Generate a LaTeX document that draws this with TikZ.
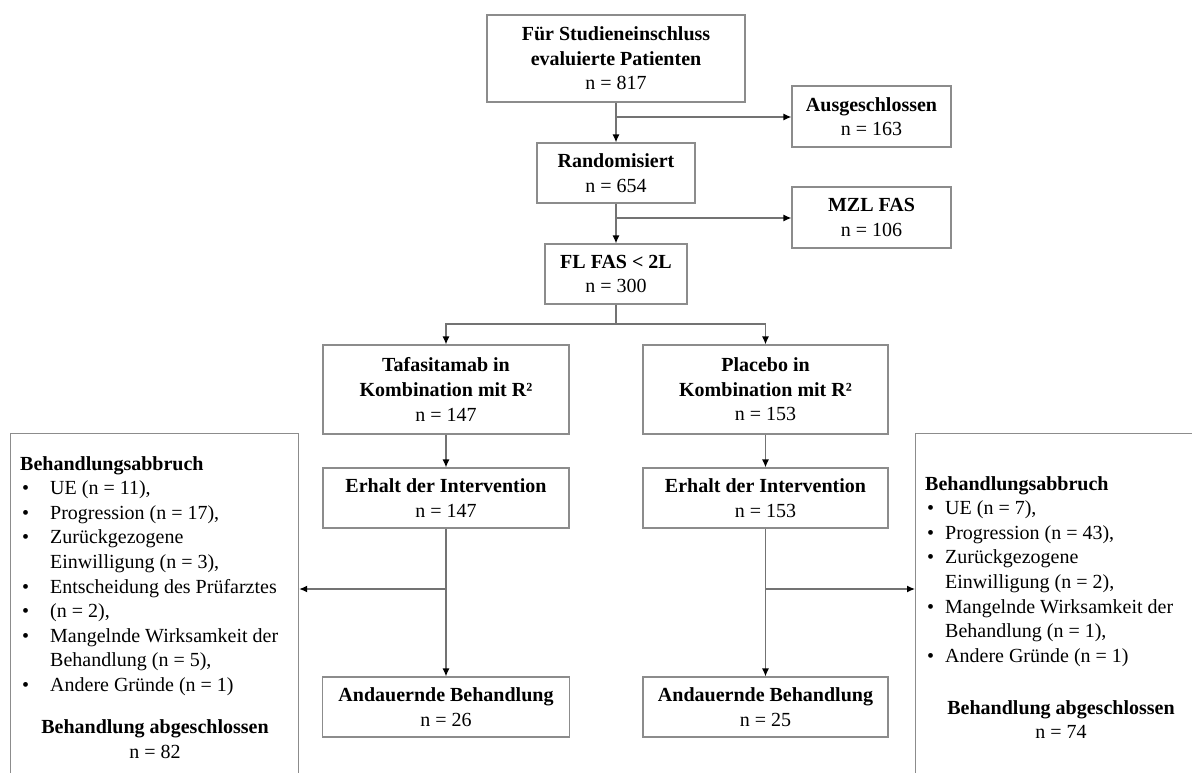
\documentclass[tikz,border=0pt]{standalone}
\usepackage{fontspec}
\setmainfont{Liberation Serif}
\usetikzlibrary{arrows.meta}
\newcommand\lbul[1]{\makebox[30pt][l]{\hspace*{2pt}•}#1}
\newcommand\lcont[1]{\hspace*{30pt}#1}
\newcommand\rbul[1]{\makebox[20pt][l]{\hspace*{2pt}•}#1}
\newcommand\rcont[1]{\hspace*{20pt}#1}
\begin{document}
\begin{tikzpicture}[x=1pt,y=-1pt,
  every node/.style={font=\fontsize{20}{24.6}\selectfont, inner sep=0pt},
  box/.style={draw=black!45, line width=1.2pt, align=center, fill=white},
  side/.style={draw=black!45, line width=1.2pt, anchor=north west},
  link/.style={draw=black!55, line width=1.3pt},
  arr/.style={link, -{Latex[length=8pt,width=7pt,color=black]}}]
\useasboundingbox (0,0) rectangle (1192,772);
\fill[white] (0,0) rectangle (1192,772);
\clip (0,0) rectangle (1192,772);

% main boxes
\node[box, minimum width=258, minimum height=87] (top) at (616,58.5)
  {\textbf{Für Studieneinschluss}\\\textbf{evaluierte Patienten}\\n = 817};
\node[box, minimum width=159, minimum height=61] (aus) at (871.5,116.5)
  {\textbf{Ausgeschlossen}\\n = 163};
\node[box, minimum width=158, minimum height=60] (rand) at (616,173)
  {\textbf{Randomisiert}\\n = 654};
\node[box, minimum width=159, minimum height=61] (mzl) at (871.5,217.5)
  {\textbf{MZL FAS}\\n = 106};
\node[box, minimum width=142, minimum height=60] (fl) at (616,274)
  {\textbf{FL FAS < 2L}\\n = 300};
\node[box, minimum width=246, minimum height=89] (tafa) at (446,389.5)
  {\textbf{Tafasitamab in}\\\textbf{Kombination mit R²}\\n = 147};
\node[box, minimum width=245, minimum height=89] (plac) at (765.5,389.5)
  {\textbf{Placebo in}\\\textbf{Kombination mit R²}\\n = 153};
\node[box, minimum width=246, minimum height=60] (erhL) at (446,498)
  {\textbf{Erhalt der Intervention}\\n = 147};
\node[box, minimum width=245, minimum height=60] (erhR) at (765.5,498)
  {\textbf{Erhalt der Intervention}\\n = 153};
\node[box, minimum width=247, minimum height=60] (andL) at (446,707)
  {\textbf{Andauernde Behandlung}\\n = 26};
\node[box, minimum width=245, minimum height=60] (andR) at (765.5,707)
  {\textbf{Andauernde Behandlung}\\n = 25};

% side boxes
\node[side, minimum width=288, minimum height=400] (lbox) at (10,433) {};
\node[side, minimum width=292, minimum height=400] (rbox) at (915,433) {};

\node[anchor=north west, align=left] (ltext) at (20,456)
  {\textbf{Behandlungsabbruch}\\
   \lbul{UE (n = 11),}\\
   \lbul{Progression (n = 17),}\\
   \lbul{Zurückgezogene}\\
   \lcont{Einwilligung (n = 3),}\\
   \lbul{Entscheidung des Prüfarztes}\\
   \lbul{(n = 2),}\\
   \lbul{Mangelnde Wirksamkeit der}\\
   \lcont{Behandlung (n = 5),}\\
   \lbul{Andere Gründe (n = 1)}};
\node[align=center] (lfoot) at (155,739)
  {\textbf{Behandlung abgeschlossen}\\n = 82};

\node[anchor=north west, align=left] (rtext) at (925,476)
  {\textbf{Behandlungsabbruch}\\
   \rbul{UE (n = 7),}\\
   \rbul{Progression (n = 43),}\\
   \rbul{Zurückgezogene}\\
   \rcont{Einwilligung (n = 2),}\\
   \rbul{Mangelnde Wirksamkeit der}\\
   \rcont{Behandlung (n = 1),}\\
   \rbul{Andere Gründe (n = 1)}};
\node[align=center] (rfoot) at (1061,719.5)
  {\textbf{Behandlung abgeschlossen}\\n = 74};

% connectors
\coordinate (b1) at (616,117);
\coordinate (b2) at (616,218);
\coordinate (split) at (616,324);
\coordinate (jL) at (446,589);
\coordinate (jR) at (765.5,589);

\draw[arr] (top.south) -- (rand.north);
\draw[arr] (b1) -- (b1 -| aus.west);
\draw[arr] (rand.south) -- (fl.north);
\draw[arr] (b2) -- (b2 -| mzl.west);
\draw[link] (fl.south) -- (split);
\draw[arr] (split) -| (tafa.north);
\draw[arr] (split) -| (plac.north);
\draw[arr] (tafa.south) -- (erhL.north);
\draw[arr] (plac.south) -- (erhR.north);
\draw[arr] (erhL.south) -- (andL.north);
\draw[arr] (erhR.south) -- (andR.north);
\draw[arr] (jL) -- (jL -| lbox.east);
\draw[arr] (jR) -- (jR -| rbox.west);
\end{tikzpicture}
\end{document}
